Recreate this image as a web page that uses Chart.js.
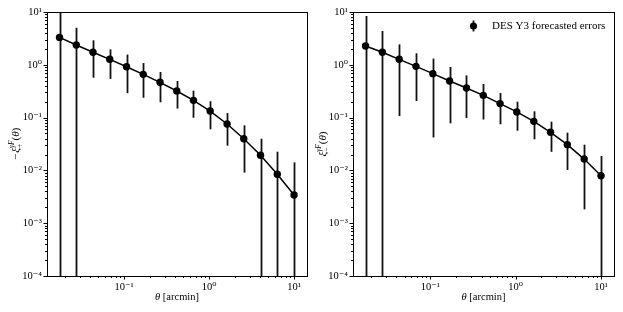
<!DOCTYPE html>
<html>
<head>
<meta charset="utf-8">
<script src="https://cdn.jsdelivr.net/npm/chart.js@4.4.1/dist/chart.umd.min.js"></script>
<style>
  html, body { margin: 0; padding: 0; background: #fff; }
  #wrap { position: relative; width: 623px; height: 312px; }
  canvas { position: absolute; top: 0; }
  #left { left: 0; }
  #right { left: 311px; }
</style>
</head>
<body>
<div id="wrap">
  <canvas id="left" width="311" height="312"></canvas>
  <canvas id="right" width="312" height="312"></canvas>
</div>
<script>
// angular bins (arcmin)
const theta = [0.0174, 0.0274, 0.0431, 0.0678, 0.107, 0.168, 0.265, 0.417, 0.656, 1.03, 1.63, 2.56, 4.03, 6.35, 10.0];

// left panel: -xi_+
const xiPlus   = [3.3, 2.37, 1.73, 1.27, 0.92, 0.66, 0.466, 0.319, 0.212, 0.133, 0.0757, 0.0398, 0.0193, 0.00843, 0.00342];
const plusHi   = [20, 5.05, 2.91, 1.96, 1.56, 1.08, 0.73, 0.493, 0.324, 0.204, 0.122, 0.0714, 0.0398, 0.0226, 0.0142];
// 1e-6 = error bar runs off the bottom of the plot
const plusLo   = [1e-6, 1e-6, 0.57, 0.54, 0.29, 0.238, 0.195, 0.148, 0.0995, 0.06, 0.0294, 0.0091, 1e-6, 1e-6, 1e-6];

// right panel: xi_-
const xiMinus  = [2.27, 1.73, 1.27, 0.935, 0.68, 0.493, 0.364, 0.264, 0.184, 0.128, 0.085, 0.0527, 0.0307, 0.0164, 0.0079];
const minusHi  = [8.4, 4.37, 2.44, 1.65, 1.31, 0.91, 0.63, 0.433, 0.292, 0.2, 0.1315, 0.0838, 0.0519, 0.0307, 0.0188];
const minusLo  = [1e-6, 1e-6, 0.107, 0.206, 0.042, 0.078, 0.098, 0.092, 0.0746, 0.0565, 0.0388, 0.0225, 0.0102, 0.00183, 1e-6];

const xTicks = [0.1, 1, 10];
const yTicks = [1e-4, 1e-3, 1e-2, 1e-1, 1, 10];
const legendLabel = 'DES Y3 forecasted errors';

const SERIF = '"Liberation Serif", "DejaVu Serif", serif';
const X_MIN = 0.0124, X_MAX = 14.2;
const Y_MIN = 1e-4, Y_MAX = 10;

const sup = { '-': '\u207B', '0': '\u2070', '1': '\u00B9', '2': '\u00B2', '3': '\u00B3', '4': '\u2074' };
const powLabel = v => '10' + String(Math.round(Math.log10(v))).split('').map(c => sup[c]).join('');

// text with sub/superscripts, optionally rotated
function drawRich(ctx, segs, cx, cy, rotate) {
    const font = s => `${s.italic ? 'italic ' : ''}${s.size}px ${SERIF}`;
    ctx.save();
    ctx.translate(cx, cy);
    if (rotate) ctx.rotate(-Math.PI / 2);
    ctx.fillStyle = '#000';
    ctx.textBaseline = 'alphabetic';
    ctx.textAlign = 'left';
    let total = 0;
    segs.forEach(s => {
        const parts = s.stack || [s];
        s.w = 0;
        parts.forEach(p => { ctx.font = font(p); p.w = ctx.measureText(p.text).width; s.w = Math.max(s.w, p.w); });
        total += s.w;
    });
    let x = -total / 2;
    const base = 4;
    segs.forEach(s => {
        (s.stack || [s]).forEach(p => {
            ctx.font = font(p);
            ctx.fillText(p.text, x, base + (p.dy || 0));
        });
        x += s.w;
    });
    ctx.restore();
}

const framePlugin = {
    id: 'frame',
    beforeDatasetsDraw(chart, args, opts) {
        const { ctx, chartArea: a, scales: { x, y } } = chart;
        ctx.save();
        ctx.beginPath();
        ctx.rect(a.left, a.top, a.right - a.left, a.bottom - a.top);
        ctx.clip();
        ctx.strokeStyle = '#111';
        ctx.lineWidth = 1.8;
        theta.forEach((t, i) => {
            const px = Math.round(x.getPixelForValue(t)) + 0.5;
            ctx.beginPath();
            ctx.moveTo(px, y.getPixelForValue(opts.hi[i]));
            ctx.lineTo(px, y.getPixelForValue(opts.lo[i]));
            ctx.stroke();
        });
        ctx.restore();
    },
    afterDraw(chart, args, opts) {
        const { ctx, chartArea: a, scales: { x, y } } = chart;
        ctx.save();
        ctx.strokeStyle = '#000';
        ctx.lineWidth = 1;
        ctx.strokeRect(Math.round(a.left) + 0.5, Math.round(a.top) + 0.5,
            Math.round(a.right - a.left), Math.round(a.bottom - a.top));
        // log tick marks, outward
        ctx.beginPath();
        for (let e = -5; e <= 1; e++) {
            for (let k = 1; k <= 9; k++) {
                const v = k * Math.pow(10, e);
                const len = k === 1 ? 3.5 : 2;
                if (v >= X_MIN && v <= X_MAX) {
                    const px = Math.round(x.getPixelForValue(v)) + 0.5;
                    ctx.moveTo(px, a.bottom);
                    ctx.lineTo(px, a.bottom + len);
                }
                if (v >= Y_MIN * 0.999 && v <= Y_MAX * 1.001) {
                    const py = Math.round(y.getPixelForValue(v)) + 0.5;
                    ctx.moveTo(a.left, py);
                    ctx.lineTo(a.left - len, py);
                }
            }
        }
        ctx.stroke();
        ctx.restore();

        drawRich(ctx, opts.yLabel, opts.yLabelX, (a.top + a.bottom) / 2, true);
        drawRich(ctx, [
            { text: '\u03B8', size: 10.5, italic: true },
            { text: ' [arcmin]', size: 10.5 }
        ], (a.left + a.right) / 2, 296, false);

        if (opts.legend) {
            const lx = 162, ly = 26;
            ctx.save();
            ctx.strokeStyle = '#111';
            ctx.lineWidth = 1.8;
            ctx.beginPath();
            ctx.moveTo(lx + 0.5, ly - 5.5);
            ctx.lineTo(lx + 0.5, ly + 5.5);
            ctx.stroke();
            ctx.fillStyle = '#000';
            ctx.beginPath();
            ctx.arc(lx + 0.5, ly, 3.6, 0, Math.PI * 2);
            ctx.fill();
            ctx.font = `11px ${SERIF}`;
            ctx.textBaseline = 'middle';
            ctx.fillText(legendLabel, 181, ly);
            ctx.restore();
        }
    }
};

function makePanel(canvasId, values, hi, lo, extra) {
    const ctx = document.getElementById(canvasId);
    return new Chart(ctx, {
        type: 'line',
        data: {
            datasets: [{
                data: theta.map((t, i) => ({ x: t, y: values[i] })),
                borderColor: '#000',
                borderWidth: 1.5,
                pointRadius: 3.7,
                pointBackgroundColor: '#000',
                pointBorderWidth: 0,
                fill: false,
                tension: 0
            }]
        },
        options: {
            responsive: false,
            animation: false,
            devicePixelRatio: 1,
            layout: { padding: { top: 12, right: extra.padRight, left: 0, bottom: 0 } },
            plugins: {
                legend: { display: false },
                tooltip: { enabled: false },
                frame: { hi, lo, yLabel: extra.yLabel, yLabelX: extra.yLabelX, legend: extra.legend }
            },
            scales: {
                x: {
                    type: 'logarithmic',
                    min: X_MIN,
                    max: X_MAX,
                    grid: { display: false, drawTicks: false },
                    border: { display: false },
                    afterBuildTicks: s => { s.ticks = xTicks.map(v => ({ value: v })); },
                    afterFit: s => { s.height = 36; },
                    ticks: {
                        callback: v => powLabel(v),
                        font: { family: SERIF, size: 10.5 },
                        color: '#000',
                        padding: 5,
                        maxRotation: 0,
                        autoSkip: false
                    }
                },
                y: {
                    type: 'logarithmic',
                    min: Y_MIN,
                    max: Y_MAX,
                    grid: { display: false, drawTicks: false },
                    border: { display: false },
                    afterBuildTicks: s => { s.ticks = yTicks.map(v => ({ value: v })); },
                    afterFit: s => { s.width = extra.yWidth; },
                    ticks: {
                        callback: v => powLabel(v),
                        font: { family: SERIF, size: 10.5 },
                        color: '#000',
                        padding: 5,
                        autoSkip: false
                    }
                }
            }
        },
        plugins: [framePlugin]
    });
}

makePanel('left', xiPlus, plusHi, plusLo, {
    padRight: 4, yWidth: 47, yLabelX: 15, legend: false,
    yLabel: [
        { text: '\u2212\u03BE', size: 11, italic: true },
        { stack: [{ text: '+', size: 7.5, dy: 2.5 }, { text: '\u03B3F', size: 7.5, italic: true, dy: -5 }] },
        { text: '(', size: 11 }, { text: '\u03B8', size: 11, italic: true }, { text: ')', size: 11 }
    ]
});

makePanel('right', xiMinus, minusHi, minusLo, {
    padRight: 9, yWidth: 42, yLabelX: 11, legend: true,
    yLabel: [
        { text: '\u03BE', size: 11, italic: true },
        { stack: [{ text: '\u2212', size: 7.5, dy: 2.5 }, { text: '\u03B3F', size: 7.5, italic: true, dy: -5 }] },
        { text: '(', size: 11 }, { text: '\u03B8', size: 11, italic: true }, { text: ')', size: 11 }
    ]
});
</script>
</body>
</html>
